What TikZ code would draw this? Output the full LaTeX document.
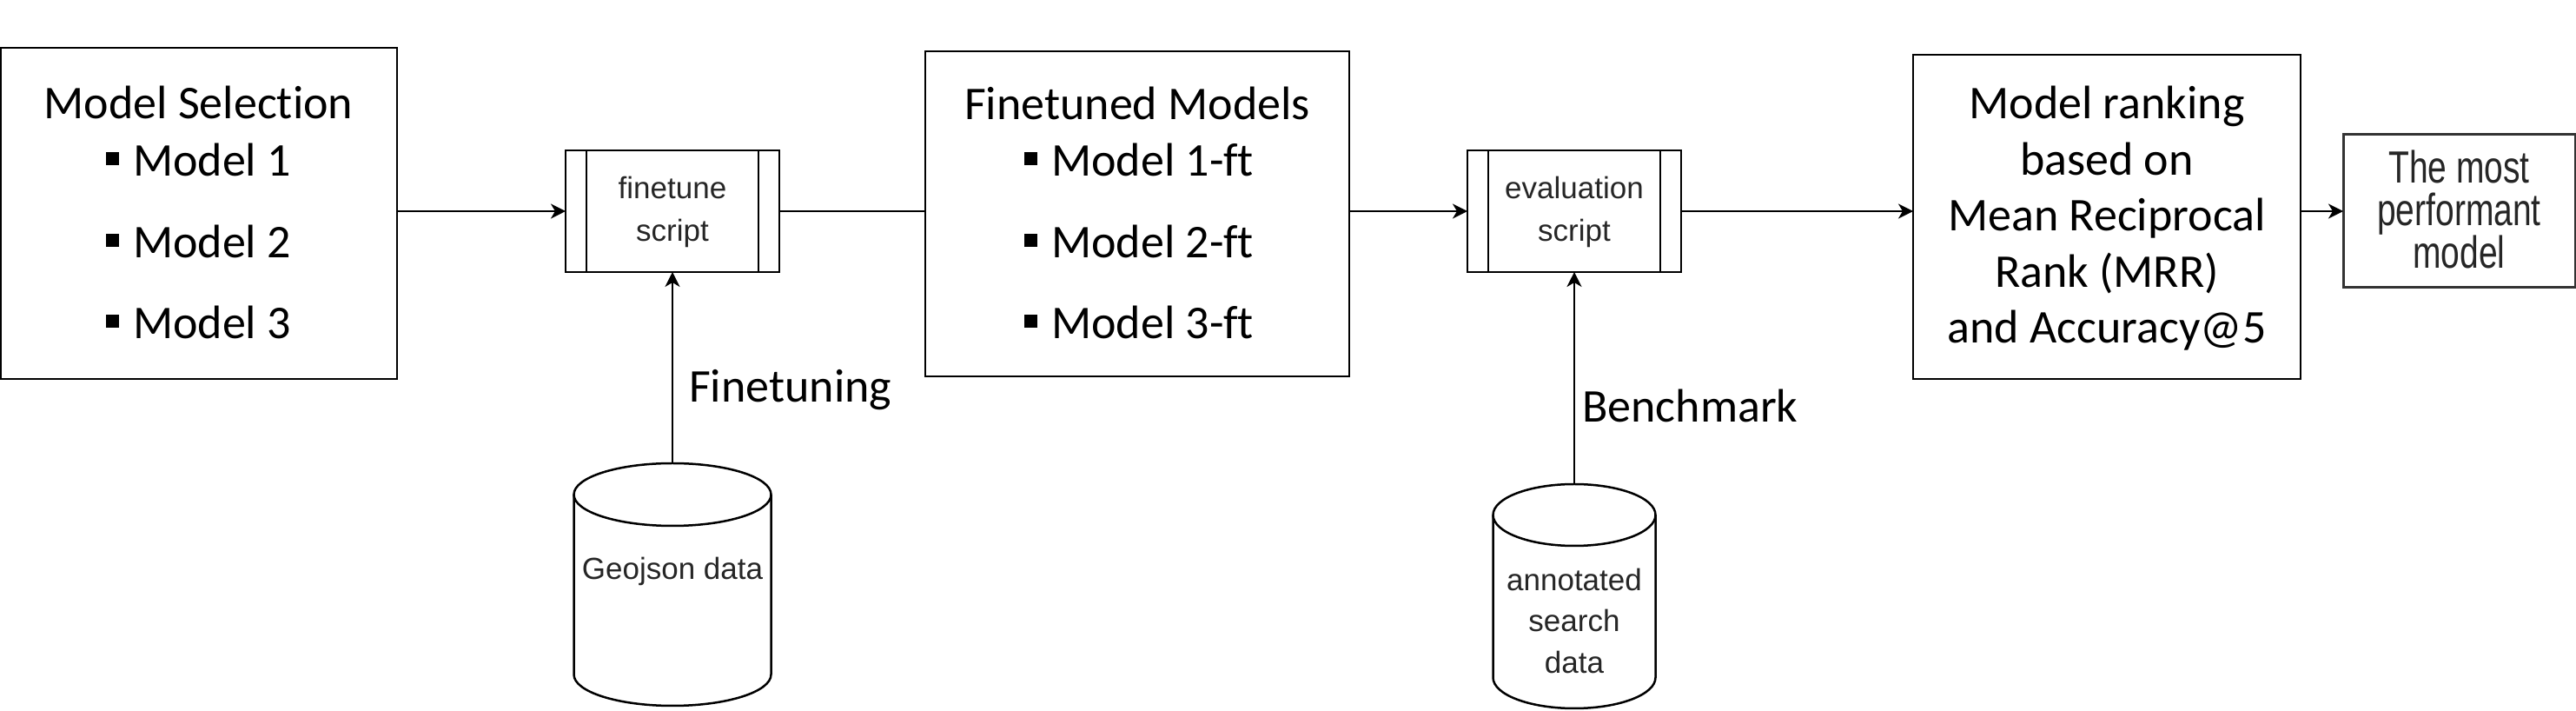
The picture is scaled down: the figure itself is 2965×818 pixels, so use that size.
\documentclass[tikz,border=0pt]{standalone}
\usepackage{fontspec}
\usepackage{graphicx}
\setmainfont{Carlito}[RawFeature={-liga;-clig;-dlig}]
\newfontfamily\arialf{Liberation Sans}
\usetikzlibrary{arrows.meta,calc}
\newcommand\sqbullet{\rule[13pt]{15pt}{15pt}\hspace{16pt}}
\begin{document}
\begin{tikzpicture}[x=1pt,y=1pt,
  box/.style={draw=black, line width=1.8pt, inner sep=0pt, outer sep=0pt},
  scriptbox/.style={draw=black, line width=2.5pt, inner sep=0pt, outer sep=0pt, minimum width=246pt, minimum height=140pt},
  bar/.style={line width=2.5pt},
  big/.style={font=\fontsize{54}{64}\selectfont, anchor=base, inner sep=0pt},
  small/.style={font=\arialf\fontsize{35}{48}\selectfont, text=black!85, anchor=base, inner sep=0pt},
  perft/.style={font=\arialf\fontsize{39}{40}\selectfont, text=black!85, anchor=base, inner sep=0pt},
  conn/.style={line width=2.5pt},
  arr/.style={conn, -{Stealth[length=17pt,width=17pt,inset=5pt]}},
  cyl/.style={line width=2.5pt},
  holder/.style={inner sep=0pt, outer sep=0pt}
]
\useasboundingbox (0,0) rectangle (2965,818);

% Model Selection
\node[box, minimum width=456pt, minimum height=381pt] (sel) at (229,572.5) {};
\node[big] (selt) at (228.5,681) {Model Selection};
\node[big] (sel1) at (228.5,615) {\sqbullet Model 1};
\node[big] (sel2) at (228.5,521) {\sqbullet Model 2};
\node[big] (sel3) at (228.5,428) {\sqbullet Model 3};

% finetune script
\node[scriptbox] (ft) at (774,575) {};
\draw[bar] ($(ft.north west)+(24,0)$) -- ($(ft.south west)+(24,0)$);
\draw[bar] ($(ft.north east)+(-24,0)$) -- ($(ft.south east)+(-24,0)$);
\node[small] (ftt1) at (774,589) {finetune};
\node[small] (ftt2) at (774,540) {script};

% Finetuned Models
\node[box, minimum width=488pt, minimum height=374pt] (ftm) at (1309,572) {};
\node[big] (ftmt) at (1309,680) {Finetuned Models};
\node[big] (ftm1) at (1311,615) {\sqbullet Model 1-ft};
\node[big] (ftm2) at (1311,521) {\sqbullet Model 2-ft};
\node[big] (ftm3) at (1311,428) {\sqbullet Model 3-ft};

% evaluation script
\node[scriptbox] (ev) at (1812,575) {};
\draw[bar] ($(ev.north west)+(24,0)$) -- ($(ev.south west)+(24,0)$);
\draw[bar] ($(ev.north east)+(-24,0)$) -- ($(ev.south east)+(-24,0)$);
\node[small] (evt1) at (1812,589) {evaluation};
\node[small] (evt2) at (1812,540) {script};

% Model ranking
\node[box, minimum width=446pt, minimum height=373pt] (rk) at (2425,568.5) {};
\node[big] (rk1) at (2425,681) {Model ranking};
\node[big] (rk2) at (2425,616.5) {based on};
\node[big] (rk3) at (2425,552) {Mean Reciprocal};
\node[big] (rk4) at (2425,487.5) {Rank (MRR)};
\node[big] (rk5) at (2425,423) {and Accuracy@5};

% most performant model
\node[draw=black!80, line width=3pt, inner sep=0pt, outer sep=0pt, minimum width=267pt, minimum height=176pt] (pf) at (2830.5,575) {};
\node[perft] (pf1) at (2830.5,607) {\scalebox{1}[1.33]{The most}};
\node[perft] (pf2) at (2830.5,558) {\scalebox{1}[1.33]{performant}};
\node[perft] (pf3) at (2830.5,509) {\scalebox{1}[1.33]{model}};

% Geojson cylinder
\node[holder, minimum width=227pt, minimum height=279pt] (geo) at (774,145.5) {};
\draw[cyl, fill=white] (660.5,249) -- (660.5,42) arc[start angle=180, end angle=360, x radius=113.5, y radius=36] -- (887.5,249);
\draw[cyl] (774,249) ellipse [x radius=113.5, y radius=36];
\node[small] (geot) at (774,151) {Geojson data};

% annotated search data cylinder
\node[holder, minimum width=187pt, minimum height=258pt] (ann) at (1812,132) {};
\draw[cyl, fill=white] (1718.5,225.5) -- (1718.5,38.5) arc[start angle=180, end angle=360, x radius=93.5, y radius=35.5] -- (1905.5,225.5);
\draw[cyl] (1812,225.5) ellipse [x radius=93.5, y radius=35.5];
\node[small] (annt1) at (1812,138) {annotated};
\node[small] (annt2) at (1812,91) {search};
\node[small] (annt3) at (1812,43) {data};

% connectors
\draw[arr] (sel.east |- ft.west) -- (ft.west);
\draw[conn] (ft.east) -- (ftm.west |- ft.east);
\draw[arr] (ftm.east |- ev.west) -- (ev.west);
\draw[arr] (ev.east) -- (rk.west |- ev.east);
\draw[arr] (rk.east |- pf.west) -- (pf.west);
\draw[arr] (geo.north) -- (ft.south);
\draw[arr] (ann.north) -- (ev.south);

% labels
\node[big, anchor=base west] (lft) at (793,355) {Finetuning};
\node[big, anchor=base west] (lbm) at (1821,332) {Benchmark};
\end{tikzpicture}
\end{document}
